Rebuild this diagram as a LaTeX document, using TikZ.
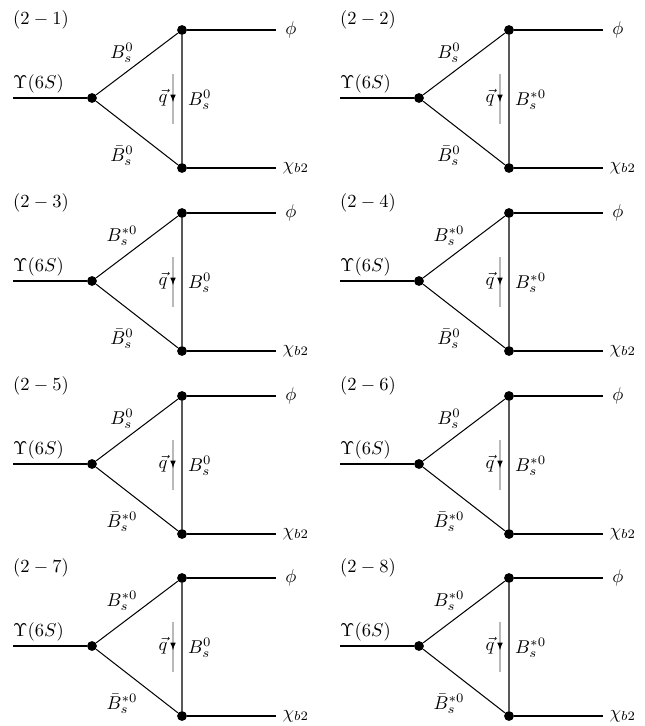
\documentclass[tikz,border=0pt]{standalone}
\usepackage{tikz}
\usetikzlibrary{positioning, calc, arrows, decorations.markings}

\tikzset{
	vtx/.style={circle, fill=black, inner sep=0pt, minimum size=5.3pt},
	ext/.style={line width=1.6pt},
	prop/.style={line width=0.55pt},
	exch/.style={line width=0.9pt, black!65},
	outphi/.style={line width=0.55pt},
	outchi/.style={line width=1.4pt},
	mom/.style={gray!55, line width=0.7pt, postaction={decorate},
		decoration={markings, mark=at position 0.56 with {\arrow[black, scale=0.8]{latex}}}},
}

\begin{document}
\begin{tikzpicture}[x=0.54pt, y=-0.54pt, node distance=1.5pt]
	\useasboundingbox (0,0) rectangle (644,726);
	\foreach \n/\ox/\oy/\ua/\vb/\lb in {
		1/0/0/{B_s^0}/{B_s^0}/{\bar B_s^0},
		2/327/0/{B_s^0}/{B_s^{*0}}/{\bar B_s^0},
		3/0/183/{B_s^{*0}}/{B_s^0}/{\bar B_s^0},
		4/327/183/{B_s^{*0}}/{B_s^{*0}}/{\bar B_s^0},
		5/0/366/{B_s^0}/{B_s^0}/{\bar B_s^{*0}},
		6/327/366/{B_s^0}/{B_s^{*0}}/{\bar B_s^{*0}},
		7/0/548/{B_s^{*0}}/{B_s^0}/{\bar B_s^{*0}},
		8/327/548/{B_s^{*0}}/{B_s^{*0}}/{\bar B_s^{*0}}}
	{
		\begin{scope}[shift={(\ox,\oy)}]
			\node (lab\n) at (41,20) {$(2-\n)$};
			\coordinate (in\n) at (13,98);
			\node[vtx] (a\n) at (92,98) {};
			\node[vtx] (t\n) at (182,30) {};
			\node[vtx] (b\n) at (182,168) {};
			\coordinate (ph\n) at (276,30);
			\coordinate (ch\n) at (276,168);
			\coordinate (qt\n) at (173,74);
			\coordinate (qb\n) at (173,124);
			\draw[ext] (in\n) -- (a\n);
			\draw[prop] (a\n) -- (t\n);
			\draw[prop] (a\n) -- (b\n);
			\draw[exch] (t\n) -- (b\n);
			\draw[outphi] (t\n) -- (ph\n);
			\draw[outchi] (b\n) -- (ch\n);
			\draw[mom] (qt\n) -- (qb\n);
			\node[anchor=south west, inner sep=1pt] (ups\n) at (11,95) {$\Upsilon(6S)$};
			\node (up\n) at (122,53) {$\ua$};
			\node (dn\n) at (122,156) {$\lb$};
			\node[anchor=west, inner sep=1pt] (ex\n) at (186,100) {$\vb$};
			\node (q\n) at (163,98) {$\vec{q}$};
			\node[right=of ph\n] (phi\n) {$\phi$};
			\node[right=0pt of ch\n] (chi\n) {$\chi_{b2}$};
		\end{scope}
	}
\end{tikzpicture}
\end{document}
